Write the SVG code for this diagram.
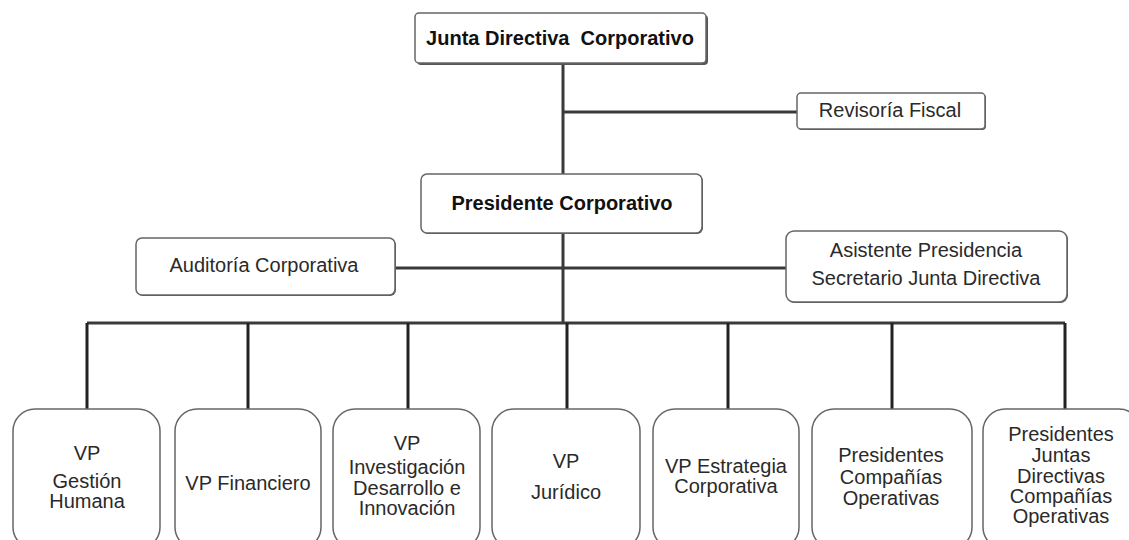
<svg xmlns="http://www.w3.org/2000/svg" width="1129" height="540" viewBox="0 0 1129 540">
<style>
.bx{fill:#fff;stroke:#666;stroke-width:1.5}
.sh{fill:#555}
.t{font-family:"Liberation Sans",Arial,sans-serif;font-size:20px;fill:#2a2a2a;text-anchor:middle}
.b{font-weight:bold;fill:#111}
.c{fill:none;stroke:#3a3a3a;stroke-width:3}
.cb{fill:none;stroke:#222;stroke-width:3}
</style>
<rect width="1129" height="540" fill="#fff"/>
<g id="connectors">
<path class="c" d="M563 63V174M563 233V323M563 112H797M395 268H786"/>
<path class="c" d="M87 323H1065"/>
<path class="cb" d="M87 323V409M248 323V409M408 323V409M567 323V409M728 323V409M892 323V409M1065 323V409"/>
</g>
<g id="n-junta">
<rect class="sh" x="417" y="15" width="291" height="50" rx="4"/>
<rect class="bx" x="415" y="13" width="291" height="50" rx="4"/>
<text class="t b" x="560" y="45" xml:space="preserve">Junta Directiva  Corporativo</text>
</g>
<g id="n-revisoria">
<rect class="sh" x="798" y="94" width="188" height="36" rx="4"/>
<rect class="bx" x="797" y="93" width="188" height="36" rx="4"/>
<text class="t" x="890" y="117">Revisoría Fiscal</text>
</g>
<g id="n-presidente">
<rect class="sh" x="422" y="175" width="281" height="59" rx="6"/>
<rect class="bx" x="421" y="174" width="281" height="59" rx="6"/>
<text class="t b" x="562" y="210">Presidente Corporativo</text>
</g>
<g id="n-auditoria">
<rect class="sh" x="137" y="239" width="259" height="57" rx="6"/>
<rect class="bx" x="136" y="238" width="259" height="57" rx="6"/>
<text class="t" x="264" y="272">Auditoría Corporativa</text>
</g>
<g id="n-asistente">
<rect class="sh" x="787" y="232" width="281" height="71" rx="8"/>
<rect class="bx" x="786" y="231" width="281" height="71" rx="8"/>
<text class="t" x="926" y="257">Asistente Presidencia</text>
<text class="t" x="926" y="285">Secretario Junta Directiva</text>
</g>
<g id="n-gestion">
<rect class="bx" x="13" y="409" width="147" height="140" rx="22"/>
<text class="t" x="87" y="460">VP</text>
<text class="t" x="87" y="488">Gestión</text>
<text class="t" x="87" y="508">Humana</text>
</g>
<g id="n-financiero">
<rect class="bx" x="175" y="409" width="146" height="140" rx="22"/>
<text class="t" x="248" y="490">VP Financiero</text>
</g>
<g id="n-investigacion">
<rect class="bx" x="333" y="409" width="147" height="140" rx="22"/>
<text class="t" x="407" y="450">VP</text>
<text class="t" x="407" y="474">Investigación</text>
<text class="t" x="407" y="495">Desarrollo e</text>
<text class="t" x="407" y="515">Innovación</text>
</g>
<g id="n-juridico">
<rect class="bx" x="492" y="409" width="148" height="140" rx="22"/>
<text class="t" x="566" y="468">VP</text>
<text class="t" x="566" y="499">Jurídico</text>
</g>
<g id="n-estrategia">
<rect class="bx" x="653" y="409" width="146" height="140" rx="22"/>
<text class="t" x="726" y="473">VP Estrategia</text>
<text class="t" x="726" y="493">Corporativa</text>
</g>
<g id="n-presidentes">
<rect class="bx" x="812" y="409" width="160" height="140" rx="22"/>
<text class="t" x="891" y="462">Presidentes</text>
<text class="t" x="891" y="484">Compañías</text>
<text class="t" x="891" y="505">Operativas</text>
</g>
<g id="n-juntas">
<rect class="bx" x="983" y="409" width="158" height="140" rx="22"/>
<text class="t" x="1061" y="441">Presidentes</text>
<text class="t" x="1061" y="462">Juntas</text>
<text class="t" x="1061" y="483">Directivas</text>
<text class="t" x="1061" y="503">Compañías</text>
<text class="t" x="1061" y="523">Operativas</text>
</g>
</svg>
